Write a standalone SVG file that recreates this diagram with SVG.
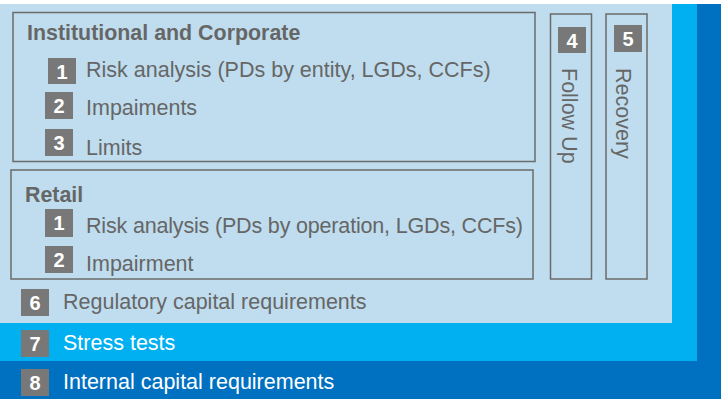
<svg xmlns="http://www.w3.org/2000/svg" width="721" height="399" viewBox="0 0 721 399">
<style>
.box{fill:none;stroke:#6b6b6b;stroke-width:1.5}
.badge{fill:#787878}
.bn{font-family:"Liberation Sans",Arial,sans-serif;font-weight:bold;font-size:20px;fill:#fff;text-anchor:middle}
.t{font-family:"Liberation Sans",Arial,sans-serif;font-size:21.5px;fill:#666}
.h{font-family:"Liberation Sans",Arial,sans-serif;font-weight:bold;font-size:21.4px;fill:#666}
.w{fill:#fff}
</style>
<rect x="0" y="0" width="721" height="399" fill="#fff"/>
<g id="internal">
<rect x="0" y="4" width="721" height="395" fill="#0070C0"/>
<rect x="21" y="369" width="28" height="27" class="badge"/>
<text x="35" y="390" class="bn">8</text>
<text x="63" y="389" class="t w">Internal capital requirements</text>
</g>
<g id="stress">
<rect x="0" y="4" width="697" height="357" fill="#00B0F0"/>
<rect x="21" y="330" width="28" height="27" class="badge"/>
<text x="35" y="351" class="bn">7</text>
<text x="63" y="349.5" class="t w">Stress tests</text>
</g>
<g id="regulatory">
<rect x="0" y="4" width="672" height="319" fill="#BFDDEE"/>
<rect x="21" y="289" width="28" height="27" class="badge"/>
<text x="35" y="310" class="bn">6</text>
<text x="63" y="308.5" class="t">Regulatory capital requirements</text>
</g>
<g id="institutional">
<rect x="13" y="12.5" width="522" height="149" class="box"/>
<text x="27" y="40" class="h">Institutional and Corporate</text>
<rect x="48" y="58" width="28" height="26" class="badge"/>
<text x="62" y="78.5" class="bn">1</text>
<text x="86" y="77" class="t">Risk analysis (PDs by entity, LGDs, CCFs)</text>
<rect x="45" y="92" width="28" height="27" class="badge"/>
<text x="59" y="112.5" class="bn">2</text>
<text x="86" y="115" class="t">Impaiments</text>
<rect x="45" y="129" width="28" height="27" class="badge"/>
<text x="59" y="149.5" class="bn">3</text>
<text x="86" y="154.5" class="t">Limits</text>
</g>
<g id="retail">
<rect x="11" y="170" width="522" height="109" class="box"/>
<text x="25" y="202" class="h">Retail</text>
<rect x="45" y="209" width="28" height="28" class="badge"/>
<text x="59" y="230" class="bn">1</text>
<text x="86" y="233" class="t" textLength="437" lengthAdjust="spacing">Risk analysis (PDs by operation, LGDs, CCFs)</text>
<rect x="45" y="246" width="28" height="27" class="badge"/>
<text x="59" y="266.5" class="bn">2</text>
<text x="86" y="271" class="t">Impairment</text>
</g>
<g id="followup">
<rect x="550.5" y="14" width="41" height="265" class="box"/>
<rect x="558" y="27" width="28" height="26" class="badge"/>
<text x="572" y="47.5" class="bn">4</text>
<text transform="translate(562,68) rotate(90)" class="t">Follow Up</text>
</g>
<g id="recovery">
<rect x="606" y="14" width="41" height="265" class="box"/>
<rect x="614" y="25" width="28" height="27" class="badge"/>
<text x="628" y="45.5" class="bn">5</text>
<text transform="translate(616,68) rotate(90)" class="t">Recovery</text>
</g>
<g id="connectors"></g>
</svg>
